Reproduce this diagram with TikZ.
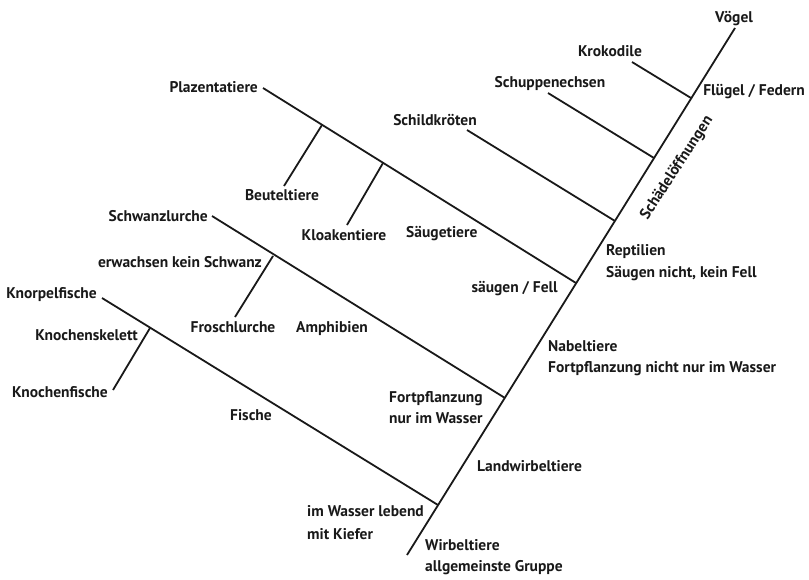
\documentclass[tikz,border=0pt]{standalone}
\usepackage{fontspec}
\setmainfont{PT Sans}
\begin{document}
\begin{tikzpicture}[x=1pt,y=-1pt,
  br/.style={line width=1.8pt,draw=black!90},
  lbl/.style={font=\bfseries\fontsize{15.5}{18}\selectfont,inner sep=0pt,text=black!90,anchor=base},
  lblw/.style={lbl,anchor=base west},
  lble/.style={lbl,anchor=base east}]
\useasboundingbox (0,0) rectangle (809,579);
% trunk points
\coordinate (tb) at (407,555);
\coordinate (tt) at (735,28);
\coordinate (jf) at (438,505);
\coordinate (ja) at (505,398);
\coordinate (jm) at (576,283);
\coordinate (js) at (615,221);
\coordinate (jq) at (654,158);
\coordinate (jk) at (691,98);
% branch ends
\coordinate (ef) at (102,298);
\coordinate (ea) at (212,216);
\coordinate (em) at (263,88);
\coordinate (es) at (467,130);
\coordinate (eq) at (548,93);
\coordinate (ek) at (632,62);
% sub-branch junctions and ends
\coordinate (jbe) at (322,125);
\coordinate (ebe) at (284,186);
\coordinate (jkl) at (383,163);
\coordinate (ekl) at (347,225);
\coordinate (jfr) at (273,256);
\coordinate (efr) at (235,317);
\coordinate (jkn) at (150,328);
\coordinate (ekn) at (113,390);
% lines
\draw[br] (tb) -- (tt);
\draw[br] (ef) -- (jf);
\draw[br] (ea) -- (ja);
\draw[br] (em) -- (jm);
\draw[br] (es) -- (js);
\draw[br] (eq) -- (jq);
\draw[br] (ek) -- (jk);
\draw[br] (jbe) -- (ebe);
\draw[br] (jkl) -- (ekl);
\draw[br] (jfr) -- (efr);
\draw[br] (jkn) -- (ekn);
% labels
\node[lbl] (voegel) at (734,22) {Vögel};
\node[lbl] (kroko) at (610,56) {Krokodile};
\node[lble] (fluegel) at (805,95) {Flügel / Federn};
\node[lbl] (schuppen) at (550,87) {Schuppenechsen};
\node[lbl] (schild) at (435,125) {Schildkröten};
\node[lbl,anchor=center,rotate=57] (schaedel) at (677,168) {Schädelöffnungen};
\node[lblw] (rept) at (606,255) {Reptilien};
\node[lblw] (rept2) at (606,277) {Säugen nicht, kein Fell};
\node[lble] (saugfell) at (558,292) {säugen / Fell};
\node[lblw] (saeuger) at (406,237) {Säugetiere};
\node[lble] (plaz) at (258,92) {Plazentatiere};
\node[lbl] (beutel) at (282,200) {Beuteltiere};
\node[lbl] (kloak) at (344,240) {Kloakentiere};
\node[lble] (schwanz) at (208,221) {Schwanzlurche};
\node[lble] (erw) at (262,267) {erwachsen kein Schwanz};
\node[lbl] (frosch) at (233,332) {Froschlurche};
\node[lblw] (amph) at (296,332) {Amphibien};
\node[lble] (knorpel) at (97,298) {Knorpelfische};
\node[lble] (knskel) at (138,340) {Knochenskelett};
\node[lble] (knfisch) at (108,397) {Knochenfische};
\node[lblw] (fische) at (230,420) {Fische};
\node[lblw] (fort) at (389,402) {Fortpflanzung};
\node[lblw] (fort2) at (389,423) {nur im Wasser};
\node[lblw] (nabel) at (548,351) {Nabeltiere};
\node[lblw] (nabel2) at (548,372) {Fortpflanzung nicht nur im Wasser};
\node[lblw] (land) at (477,471) {Landwirbeltiere};
\node[lblw] (wasser) at (307,516) {im Wasser lebend};
\node[lblw] (wasser2) at (307,539) {mit Kiefer};
\node[lblw] (wirbel) at (425,550) {Wirbeltiere};
\node[lblw] (wirbel2) at (425,571) {allgemeinste Gruppe};
\end{tikzpicture}
\end{document}
